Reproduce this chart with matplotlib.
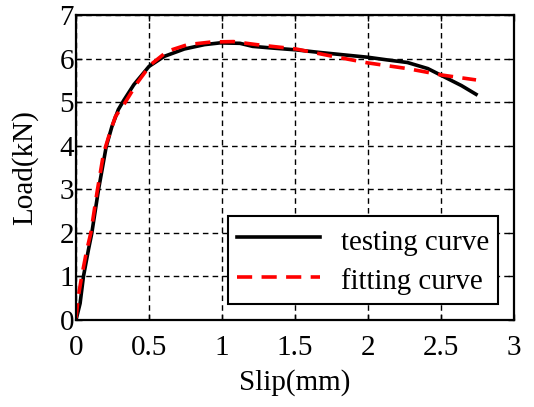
import numpy as np
import matplotlib.pyplot as plt

# testing curve
slip_test = [0, 0.028, 0.051, 0.085, 0.108, 0.154, 0.207, 0.246, 0.29, 0.327, 0.396,
             0.50, 0.604, 0.742, 0.88, 0.986, 1.123, 1.21, 1.35, 1.507, 1.67, 1.85,
             2.0, 2.13, 2.27, 2.41, 2.51, 2.64, 2.74]
load_test = [0, 0.38, 1.0, 1.61, 1.99, 2.99, 3.98, 4.44, 4.83, 5.04, 5.40,
             5.82, 6.05, 6.22, 6.32, 6.36, 6.35, 6.28, 6.24, 6.20, 6.14, 6.08,
             6.03, 5.97, 5.91, 5.77, 5.60, 5.38, 5.18]

# fitting curve
slip_fit = [0, 0.016, 0.039, 0.074, 0.101, 0.143, 0.189, 0.224, 0.27, 0.327, 0.419,
            0.511, 0.627, 0.765, 0.926, 1.078, 1.26, 1.507, 1.76, 2.0, 2.27, 2.51, 2.74]
load_fit = [0.04, 0.54, 1.0, 1.61, 1.99, 2.91, 3.83, 4.21, 4.67, 4.94, 5.44,
            5.86, 6.17, 6.32, 6.38, 6.39, 6.31, 6.22, 6.05, 5.90, 5.77, 5.62, 5.51]

plt.rcParams['font.family'] = ['Liberation Serif', 'DejaVu Serif']

fig = plt.figure(figsize=(5.34, 4.07), dpi=100)
ax = fig.add_axes([76/534, 1-320/407, 438/534, 305/407])

ax.plot(slip_test, load_test, color='black', lw=2.6, solid_joinstyle='round',
        label='testing curve')
ax.plot(slip_fit, load_fit, color='red', lw=2.6, ls=(0, (4.2, 2.6)),
        dash_capstyle='butt', label='fitting curve')

ax.set_xlim(0, 3)
ax.set_ylim(0, 7)
ax.set_xticks([0, 0.5, 1, 1.5, 2, 2.5, 3])
ax.set_xticklabels(['0', '0.5', '1', '1.5', '2', '2.5', '3'])
ax.set_yticks(range(8))
ax.grid(True, color='black', ls=(0, (4, 3)), lw=1)
ax.tick_params(direction='in', labelsize=21, length=4, width=1,
               top=True, right=True)
ax.tick_params(axis='x', pad=10.5)
ax.tick_params(axis='y', pad=1.5)
for s in ax.spines.values():
    s.set_linewidth(1.6)

ax.set_xlabel('Slip(mm)', fontsize=21, labelpad=6)
ax.set_ylabel('Load(kN)', fontsize=21, labelpad=15.5)

leg = ax.legend(loc='lower right', bbox_to_anchor=(0.9635, 0.052), fontsize=20.8,
                fancybox=False, framealpha=1, edgecolor='black', handlelength=2.9,
                handleheight=1.25, handletextpad=0.72, borderpad=0.3,
                labelspacing=0.3, borderaxespad=0)
leg.get_frame().set_linewidth(1.5)

fig.savefig('out.png', dpi=100)
